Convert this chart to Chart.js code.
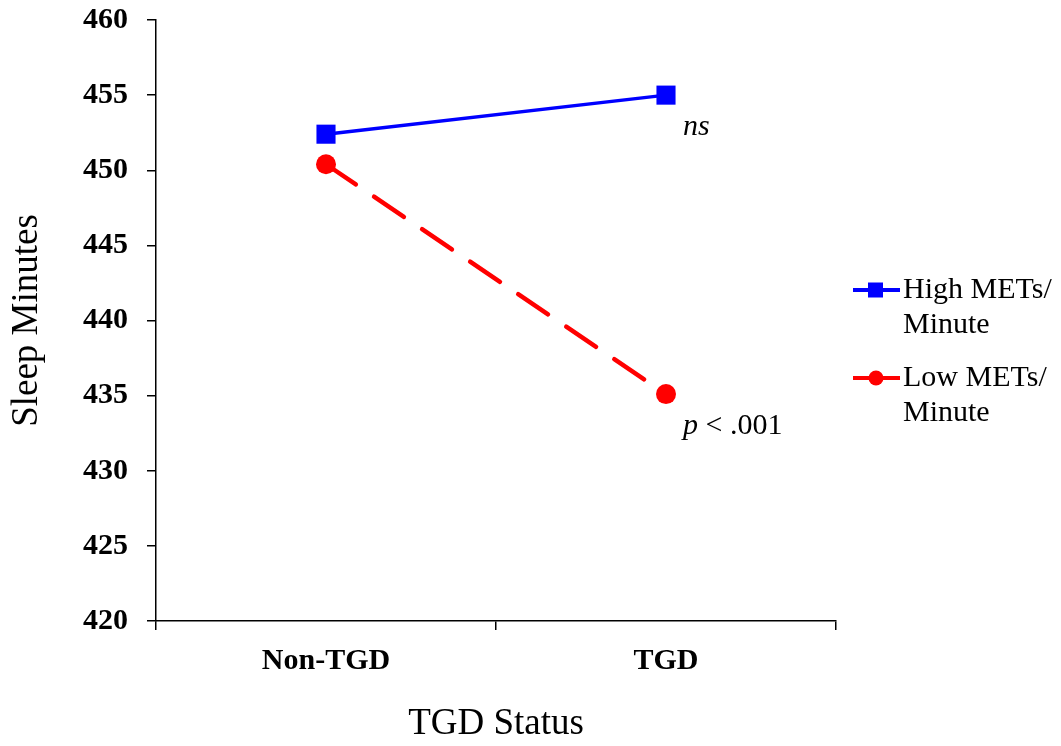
<!DOCTYPE html>
<html>
<head>
<meta charset="utf-8">
<script src="https://cdn.jsdelivr.net/npm/chart.js@4/dist/chart.umd.min.js"></script>
<style>
  html, body { margin: 0; padding: 0; background: #fff; }
  #wrap { width: 1061px; height: 746px; }
</style>
</head>
<body>
<div id="wrap"><canvas id="myChart" width="1061" height="746"></canvas></div>
<script>
  const categories = ['Non-TGD', 'TGD'];
  const highMets = [452.4, 455.0];
  const lowMets = [450.4, 435.1];
  const seriesNames = ['High METs/Minute', 'Low METs/Minute'];
  // italic part, plain part of the note next to the TGD point
  const notes = [['ns', ''], ['p', ' < .001']];
  const yMin = 420;
  const yMax = 460;
  const yStep = 5;

  const serif = '"Liberation Serif", "Times New Roman", serif';

  // notes at the last point of each line
  const notePlugin = {
    id: 'notes',
    afterDatasetsDraw(chart) {
      const ctx = chart.ctx;
      ctx.save();
      ctx.fillStyle = '#000';
      ctx.textBaseline = 'alphabetic';
      notes.forEach((n, i) => {
        const pt = chart.getDatasetMeta(i).data[1];
        let x = pt.x + 17;
        const y = pt.y + 40;
        ctx.font = 'italic 30px ' + serif;
        ctx.fillText(n[0], x, y);
        x += ctx.measureText(n[0]).width;
        ctx.font = '30px ' + serif;
        ctx.fillText(n[1], x, y);
      });
      ctx.restore();
    }
  };

  // legend on the right, labels wrapped after the slash
  const legendPlugin = {
    id: 'sideLegend',
    afterDraw(chart) {
      const ctx = chart.ctx;
      const rows = [290, 378];
      ctx.save();
      chart.data.datasets.forEach((ds, i) => {
        const y = rows[i];
        ctx.strokeStyle = ds.borderColor;
        ctx.lineWidth = 4;
        ctx.beginPath();
        ctx.moveTo(853, y);
        ctx.lineTo(900, y);
        ctx.stroke();
        ctx.fillStyle = ds.borderColor;
        if (ds.pointStyle === 'rect') {
          ctx.fillRect(868, y - 7.5, 15, 15);
        } else {
          ctx.beginPath();
          ctx.arc(876, y, 7.5, 0, Math.PI * 2);
          ctx.fill();
        }
        ctx.fillStyle = '#000';
        ctx.font = '30px ' + serif;
        const parts = ds.label.split('/');
        ctx.fillText(parts[0] + '/', 903, y + 8);
        ctx.fillText(parts[1], 903, y + 43);
      });
      ctx.restore();
    }
  };

  const chartData = {
    labels: categories,
    datasets: [{
      label: seriesNames[0],
      data: highMets,
      borderColor: '#0000ff',
      backgroundColor: '#0000ff',
      borderWidth: 3.5,
      pointStyle: 'rect',
      pointRadius: 13.5,
      pointBorderWidth: 0,
      tension: 0
    }, {
      label: seriesNames[1],
      data: lowMets,
      borderColor: '#ff0000',
      backgroundColor: '#ff0000',
      borderWidth: 4.5,
      borderDash: [36, 22],
      borderCapStyle: 'round',
      pointStyle: 'circle',
      pointRadius: 10,
      pointBorderWidth: 0,
      tension: 0
    }]
  };

  const chartConfig = {
    type: 'line',
    data: chartData,
    plugins: [notePlugin, legendPlugin],
    options: {
      responsive: false,
      animation: false,
      clip: false,
      layout: {
        padding: { left: 0, right: 225, top: 20, bottom: 0 }
      },
      plugins: {
        legend: { display: false },
        tooltip: { enabled: false }
      },
      scales: {
        x: {
          offset: true,
          afterFit(scale) { scale.height = 125; },
          grid: {
            offset: true,
            drawOnChartArea: false,
            drawTicks: true,
            tickLength: 9,
            color: '#000',
            lineWidth: 1.5
          },
          border: { display: true, color: '#000', width: 1.5 },
          ticks: {
            color: '#000',
            padding: 13,
            font: { family: serif, size: 30, weight: 'bold' }
          },
          title: {
            display: true,
            text: 'TGD Status',
            color: '#000',
            padding: { top: 0, bottom: 0 },
            font: { family: serif, size: 37 }
          }
        },
        y: {
          min: yMin,
          max: yMax,
          afterFit(scale) {
            scale.width = 156;
            scale.paddingTop = 0;
            scale.paddingBottom = 0;
          },
          grid: {
            drawOnChartArea: false,
            drawTicks: true,
            tickLength: 9,
            color: '#000',
            lineWidth: 1.5
          },
          border: { display: true, color: '#000', width: 1.5 },
          ticks: {
            stepSize: yStep,
            color: '#000',
            padding: 19,
            font: { family: serif, size: 30, weight: 'bold' }
          },
          title: {
            display: true,
            text: 'Sleep Minutes',
            color: '#000',
            padding: { top: 5, bottom: 0 },
            font: { family: serif, size: 37 }
          }
        }
      }
    }
  };

  const chartCanvas = document.getElementById('myChart');
  const chartContext = chartCanvas.getContext('2d');
  const myChart = new Chart(chartContext, chartConfig);
</script>
</body>
</html>
